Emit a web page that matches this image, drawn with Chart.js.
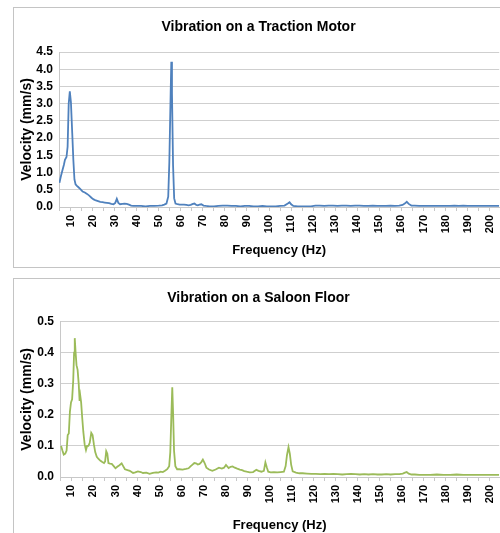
<!DOCTYPE html>
<html><head><meta charset="utf-8">
<script src="https://cdn.jsdelivr.net/npm/chart.js@4.4.1/dist/chart.umd.min.js"></script>
<style>
html,body{margin:0;padding:0;background:#fff;overflow:hidden;width:500px;height:533px;}
.box{position:absolute;left:13px;width:493px;height:259px;border:1px solid #c4c4c4;background:#fff;}
#b1{top:7px;}
#b2{top:278px;}
.box canvas{position:absolute;left:0;top:0;}
</style></head><body>
<div class="box" id="b1"><canvas id="c1" width="493" height="259"></canvas></div>
<div class="box" id="b2"><canvas id="c2" width="493" height="259"></canvas></div>
<script>
// ---- data ----
const motorFreq = [5.0,5.6,6.3,7.0,7.5,8.2,8.7,9.2,9.7,10.2,10.8,11.3,11.8,12.3,12.8,13.5,14.5,15.5,16.5,17.5,18.5,19.5,20.5,21.5,22.5,23.5,24.5,25.5,26.5,27.5,28.5,29.5,30.3,31.0,31.7,32.5,33.5,34.5,35.5,36.5,37.5,38.5,40,42,44,46,48,50,51.5,52.5,53.5,54.3,54.8,55.4,55.7,56.0,56.5,57.0,57.6,58.5,59.5,60.5,61.5,62.5,63.5,64.5,65.5,66.2,67.0,67.7,68.5,69.3,70.3,71.5,73,75,77,79,81,83,85,87,89,91,93,95,97,99,101,103,105,107,108.5,109.3,110,111,113,115,117,119,121,123,125,127,129,131,133,135,137,139,141,143,145,147,149,151,153,155,157,159,160.5,161.5,162.4,163.3,164.5,166,168,170,172,174,176,178,180,182,184,186,188,190,192,194,196,198,200,202,204.3];
const motorVel = [0.70,0.88,1.05,1.22,1.37,1.45,1.75,3.00,3.36,3.05,2.14,1.37,0.80,0.66,0.62,0.58,0.52,0.45,0.42,0.38,0.33,0.27,0.22,0.19,0.17,0.15,0.14,0.13,0.12,0.11,0.09,0.08,0.12,0.24,0.12,0.08,0.09,0.10,0.09,0.07,0.04,0.03,0.03,0.03,0.02,0.03,0.03,0.04,0.05,0.07,0.10,0.30,1.30,3.30,4.22,3.30,1.20,0.25,0.10,0.08,0.07,0.07,0.07,0.06,0.05,0.06,0.09,0.10,0.06,0.05,0.07,0.08,0.04,0.03,0.02,0.02,0.03,0.04,0.04,0.03,0.03,0.02,0.03,0.03,0.02,0.02,0.03,0.02,0.02,0.02,0.03,0.04,0.10,0.14,0.08,0.03,0.02,0.02,0.02,0.02,0.04,0.04,0.03,0.04,0.04,0.03,0.04,0.04,0.03,0.04,0.04,0.03,0.03,0.04,0.03,0.03,0.03,0.04,0.03,0.04,0.06,0.10,0.15,0.09,0.04,0.04,0.03,0.03,0.03,0.03,0.03,0.03,0.03,0.03,0.04,0.03,0.04,0.03,0.03,0.03,0.03,0.03,0.03,0.03,0.03];

const floorFreq = [5.3,5.9,6.5,7.2,7.8,8.3,8.8,9.3,9.8,10.3,10.8,11.2,11.5,11.9,12.3,12.8,13.3,13.7,14.0,14.4,14.9,15.4,16.0,16.6,17.1,17.7,18.3,19.0,19.6,20.2,20.8,21.5,22.3,23.2,24.0,24.8,25.3,25.8,26.3,26.8,27.5,28.3,29.2,30.0,30.8,31.8,32.8,33.5,34.3,35.5,36.5,38.0,39.0,40.2,41.5,42.5,44.0,45.5,47.0,48.5,49.5,50.5,51.5,52.5,53.5,54.4,54.9,55.4,55.8,56.2,56.6,57.2,58.0,59.0,60.5,62.0,63.2,64.2,65.0,65.8,66.6,67.4,68.2,69.0,69.7,70.5,71.3,72.5,74.0,75.5,77.0,78.3,79.3,80.2,81.4,82.3,83.2,84.2,85.3,86.5,87.5,88.5,89.6,91.0,92.5,94.0,95.0,96.3,97.4,98.1,98.8,99.4,100.5,102.0,103.5,105.0,106.5,107.3,107.9,108.6,109.2,109.8,110.5,112.0,113.5,115.0,117,119,121,123,125,127,129,131,133,135,137,139,141,143,145,147,149,151,153,155,157,159,160.5,161.5,162.3,163.2,164.5,166,168,170,173,176,179,182,185,188,191,194,197,200,204.3];
const floorVel = [0.100,0.085,0.072,0.075,0.085,0.135,0.140,0.210,0.240,0.250,0.310,0.400,0.447,0.400,0.360,0.345,0.300,0.245,0.262,0.240,0.190,0.145,0.105,0.087,0.100,0.100,0.110,0.142,0.135,0.105,0.080,0.065,0.058,0.052,0.048,0.045,0.050,0.083,0.075,0.045,0.043,0.042,0.035,0.028,0.033,0.038,0.044,0.035,0.025,0.022,0.020,0.013,0.015,0.018,0.016,0.013,0.014,0.010,0.013,0.015,0.014,0.017,0.016,0.020,0.025,0.035,0.080,0.200,0.289,0.200,0.085,0.035,0.025,0.025,0.024,0.026,0.028,0.035,0.040,0.045,0.044,0.040,0.042,0.048,0.056,0.045,0.030,0.024,0.020,0.024,0.030,0.027,0.030,0.039,0.029,0.033,0.034,0.030,0.027,0.024,0.022,0.019,0.017,0.015,0.016,0.023,0.020,0.017,0.020,0.047,0.030,0.017,0.015,0.016,0.015,0.016,0.017,0.035,0.070,0.096,0.075,0.040,0.018,0.014,0.012,0.012,0.011,0.010,0.010,0.009,0.010,0.009,0.010,0.009,0.008,0.009,0.010,0.009,0.008,0.009,0.008,0.009,0.008,0.008,0.009,0.008,0.009,0.009,0.011,0.014,0.016,0.011,0.008,0.008,0.007,0.007,0.007,0.008,0.007,0.007,0.008,0.007,0.007,0.007,0.007,0.007,0.007];

const xTickLabels = [10,20,30,40,50,60,70,80,90,100,110,120,130,140,150,160,170,180,190,200];
const xTickMarks = [5,10,15,20,25,30,35,40,45,50,55,60,65,70,75,80,85,90,95,100,105,110,115,120,125,130,135,140,145,150,155,160,165,170,175,180,185,190,195,200];
const motorYTicks = [0.0,0.5,1.0,1.5,2.0,2.5,3.0,3.5,4.0,4.5];
const floorYTicks = [0.0,0.1,0.2,0.3,0.4,0.5];

// ---- drawing ----
Chart.defaults.font.family = "'Liberation Sans', Arial, sans-serif";
Chart.defaults.color = '#000';

function makeChart(id, freq, vel, color, title, yTicks, cfg) {
  const pts = freq.map((f, i) => ({x: f, y: vel[i]}));
  return new Chart(document.getElementById(id), {
    type: 'line',
    data: {datasets: [{data: pts, borderColor: color, borderWidth: 1.8, pointRadius: 0, tension: 0, fill: false}]},
    options: {
      responsive: false, animation: false,
      layout: {padding: {left: 0, right: 4, top: 0, bottom: 0}},
      plugins: {
        legend: {display: false}, tooltip: {enabled: false},
        title: {display: true, text: title, color: '#000',
                font: {size: 14, weight: 'bold'},
                padding: {top: 10.6, bottom: cfg.titleBottom}}
      },
      scales: {
        x: {
          type: 'linear', min: 4.8, max: 204.3,
          afterBuildTicks: s => { s.ticks = xTickMarks.map(v => ({value: v})); },
          afterFit: s => { s.height = cfg.xHeight; },
          ticks: {autoSkip: false, minRotation: 90, maxRotation: 90, padding: 4,
                  font: {size: 11, weight: 'bold'}, color: '#000',
                  callback: v => xTickLabels.includes(v) ? String(v) : ''},
          grid: {drawOnChartArea: false, drawTicks: true, tickLength: 4, color: '#c8c8c8'},
          border: {display: true, color: '#c8c8c8'},
          title: {display: true, text: 'Frequency (Hz)', color: '#000',
                  font: {size: 13, weight: 'bold'}, padding: {top: 2, bottom: cfg.xTitleBottom}}
        },
        y: {
          min: yTicks[0], max: yTicks[yTicks.length - 1],
          afterBuildTicks: s => { s.ticks = yTicks.map(v => ({value: v})); },
          afterFit: s => { s.width = cfg.yWidth; },
          ticks: {autoSkip: false, padding: 6, font: {size: 12, weight: 'bold'}, color: '#000',
                  callback: v => Number(v).toFixed(1)},
          grid: {drawTicks: false, color: '#cfcfcf', lineWidth: 1},
          border: {display: true, color: '#c8c8c8'},
          title: {display: true, text: 'Velocity (mm/s)', color: '#000',
                  font: {size: 14, weight: 'bold'}, padding: {top: 4.6, bottom: 2}}
        }
      }
    }
  });
}

makeChart('c1', motorFreq, motorVel, '#4f81bd', 'Vibration on a Traction Motor', motorYTicks,
          {titleBottom: 16.6, xHeight: 60, xTitleBottom: 8.5, yWidth: 45});
makeChart('c2', floorFreq, floorVel, '#9bbb59', 'Vibration on a Saloon Floor', floorYTicks,
          {titleBottom: 15.3, xHeight: 61, xTitleBottom: 5.2, yWidth: 46});
</script>
</body></html>
